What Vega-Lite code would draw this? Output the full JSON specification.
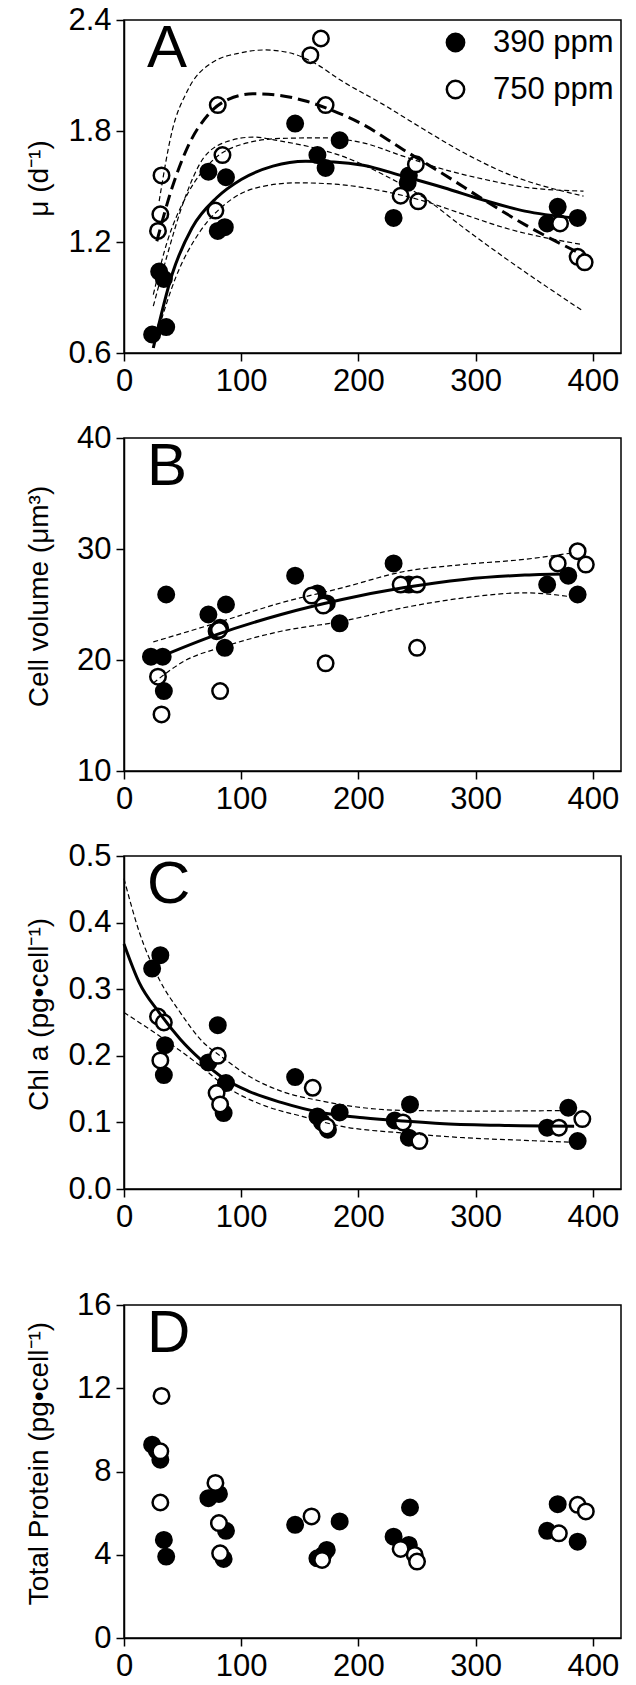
{
  "$schema": "https://vega.github.io/schema/vega-lite/v6.json",
  "background": "white",
  "padding": {"left": 24, "top": 3, "right": 0, "bottom": 0},
  "config": {
    "font": "Liberation Sans",
    "view": {"stroke": "black", "strokeWidth": 1.5},
    "axis": {"domainColor": "black", "domainWidth": 1.5, "tickColor": "black", "tickWidth": 1.5, "tickSize": 8, "labelFontSize": 31, "labelColor": "black", "labelPadding": 5, "grid": false, "titleFontSize": 28, "titleFontWeight": "normal", "titleColor": "black", "labelFlush": false, "labelOverlap": false},
    "title": {"fontSize": 60, "fontWeight": "normal", "anchor": "start", "frame": "group", "baseline": "alphabetic", "dx": 23, "offset": -76, "color": "black"}
  },
  "datasets": {
    "pts": [
      {"p": "A", "x": 24, "y": 0.70, "g": "390 ppm"}, {"p": "A", "x": 30, "y": 1.04, "g": "390 ppm"}, {"p": "A", "x": 34, "y": 1.00, "g": "390 ppm"}, {"p": "A", "x": 36, "y": 0.74, "g": "390 ppm"}, {"p": "A", "x": 72, "y": 1.58, "g": "390 ppm"}, {"p": "A", "x": 87, "y": 1.55, "g": "390 ppm"}, {"p": "A", "x": 80, "y": 1.26, "g": "390 ppm"}, {"p": "A", "x": 86, "y": 1.28, "g": "390 ppm"}, {"p": "A", "x": 146, "y": 1.84, "g": "390 ppm"}, {"p": "A", "x": 165, "y": 1.67, "g": "390 ppm"}, {"p": "A", "x": 172, "y": 1.60, "g": "390 ppm"}, {"p": "A", "x": 184, "y": 1.75, "g": "390 ppm"}, {"p": "A", "x": 230, "y": 1.33, "g": "390 ppm"}, {"p": "A", "x": 243, "y": 1.56, "g": "390 ppm"}, {"p": "A", "x": 242, "y": 1.52, "g": "390 ppm"}, {"p": "A", "x": 361, "y": 1.30, "g": "390 ppm"}, {"p": "A", "x": 370, "y": 1.39, "g": "390 ppm"}, {"p": "A", "x": 387, "y": 1.33, "g": "390 ppm"},
      {"p": "A", "x": 32, "y": 1.56, "g": "750 ppm"}, {"p": "A", "x": 31, "y": 1.35, "g": "750 ppm"}, {"p": "A", "x": 29, "y": 1.26, "g": "750 ppm"}, {"p": "A", "x": 80, "y": 1.94, "g": "750 ppm"}, {"p": "A", "x": 84, "y": 1.67, "g": "750 ppm"}, {"p": "A", "x": 78, "y": 1.37, "g": "750 ppm"}, {"p": "A", "x": 159, "y": 2.21, "g": "750 ppm"}, {"p": "A", "x": 168, "y": 2.30, "g": "750 ppm"}, {"p": "A", "x": 172, "y": 1.94, "g": "750 ppm"}, {"p": "A", "x": 249, "y": 1.62, "g": "750 ppm"}, {"p": "A", "x": 236, "y": 1.45, "g": "750 ppm"}, {"p": "A", "x": 251, "y": 1.42, "g": "750 ppm"}, {"p": "A", "x": 372, "y": 1.30, "g": "750 ppm"}, {"p": "A", "x": 387, "y": 1.12, "g": "750 ppm"}, {"p": "A", "x": 393, "y": 1.09, "g": "750 ppm"},
      {"p": "B", "x": 23, "y": 20.3, "g": "390 ppm"}, {"p": "B", "x": 33, "y": 20.3, "g": "390 ppm"}, {"p": "B", "x": 36, "y": 25.9, "g": "390 ppm"}, {"p": "B", "x": 34, "y": 17.2, "g": "390 ppm"}, {"p": "B", "x": 72, "y": 24.1, "g": "390 ppm"}, {"p": "B", "x": 87, "y": 25.0, "g": "390 ppm"}, {"p": "B", "x": 79, "y": 22.6, "g": "390 ppm"}, {"p": "B", "x": 82, "y": 22.9, "g": "390 ppm"}, {"p": "B", "x": 86, "y": 21.1, "g": "390 ppm"}, {"p": "B", "x": 146, "y": 27.6, "g": "390 ppm"}, {"p": "B", "x": 165, "y": 26.0, "g": "390 ppm"}, {"p": "B", "x": 173, "y": 25.1, "g": "390 ppm"}, {"p": "B", "x": 184, "y": 23.3, "g": "390 ppm"}, {"p": "B", "x": 230, "y": 28.7, "g": "390 ppm"}, {"p": "B", "x": 243, "y": 26.8, "g": "390 ppm"}, {"p": "B", "x": 361, "y": 26.8, "g": "390 ppm"}, {"p": "B", "x": 379, "y": 27.6, "g": "390 ppm"}, {"p": "B", "x": 387, "y": 25.9, "g": "390 ppm"},
      {"p": "B", "x": 29, "y": 18.5, "g": "750 ppm"}, {"p": "B", "x": 32, "y": 15.1, "g": "750 ppm"}, {"p": "B", "x": 82, "y": 17.2, "g": "750 ppm"}, {"p": "B", "x": 81, "y": 22.7, "g": "750 ppm"}, {"p": "B", "x": 160, "y": 25.8, "g": "750 ppm"}, {"p": "B", "x": 170, "y": 24.9, "g": "750 ppm"}, {"p": "B", "x": 172, "y": 19.7, "g": "750 ppm"}, {"p": "B", "x": 236, "y": 26.8, "g": "750 ppm"}, {"p": "B", "x": 250, "y": 26.8, "g": "750 ppm"}, {"p": "B", "x": 250, "y": 21.1, "g": "750 ppm"}, {"p": "B", "x": 370, "y": 28.7, "g": "750 ppm"}, {"p": "B", "x": 387, "y": 29.8, "g": "750 ppm"}, {"p": "B", "x": 394, "y": 28.6, "g": "750 ppm"},
      {"p": "C", "x": 24, "y": 0.331, "g": "390 ppm"}, {"p": "C", "x": 31, "y": 0.351, "g": "390 ppm"}, {"p": "C", "x": 35, "y": 0.216, "g": "390 ppm"}, {"p": "C", "x": 34, "y": 0.171, "g": "390 ppm"}, {"p": "C", "x": 72, "y": 0.190, "g": "390 ppm"}, {"p": "C", "x": 80, "y": 0.246, "g": "390 ppm"}, {"p": "C", "x": 87, "y": 0.159, "g": "390 ppm"}, {"p": "C", "x": 85, "y": 0.114, "g": "390 ppm"}, {"p": "C", "x": 146, "y": 0.168, "g": "390 ppm"}, {"p": "C", "x": 165, "y": 0.109, "g": "390 ppm"}, {"p": "C", "x": 174, "y": 0.089, "g": "390 ppm"}, {"p": "C", "x": 169, "y": 0.100, "g": "390 ppm"}, {"p": "C", "x": 184, "y": 0.115, "g": "390 ppm"}, {"p": "C", "x": 231, "y": 0.103, "g": "390 ppm"}, {"p": "C", "x": 244, "y": 0.127, "g": "390 ppm"}, {"p": "C", "x": 243, "y": 0.077, "g": "390 ppm"}, {"p": "C", "x": 361, "y": 0.092, "g": "390 ppm"}, {"p": "C", "x": 379, "y": 0.122, "g": "390 ppm"}, {"p": "C", "x": 387, "y": 0.072, "g": "390 ppm"},
      {"p": "C", "x": 29, "y": 0.259, "g": "750 ppm"}, {"p": "C", "x": 34, "y": 0.250, "g": "750 ppm"}, {"p": "C", "x": 31, "y": 0.193, "g": "750 ppm"}, {"p": "C", "x": 80, "y": 0.200, "g": "750 ppm"}, {"p": "C", "x": 79, "y": 0.144, "g": "750 ppm"}, {"p": "C", "x": 82, "y": 0.127, "g": "750 ppm"}, {"p": "C", "x": 161, "y": 0.152, "g": "750 ppm"}, {"p": "C", "x": 173, "y": 0.094, "g": "750 ppm"}, {"p": "C", "x": 238, "y": 0.100, "g": "750 ppm"}, {"p": "C", "x": 252, "y": 0.072, "g": "750 ppm"}, {"p": "C", "x": 371, "y": 0.092, "g": "750 ppm"}, {"p": "C", "x": 391, "y": 0.105, "g": "750 ppm"},
      {"p": "D", "x": 24, "y": 9.29, "g": "390 ppm"}, {"p": "D", "x": 28, "y": 9.0, "g": "390 ppm"}, {"p": "D", "x": 31, "y": 8.57, "g": "390 ppm"}, {"p": "D", "x": 34, "y": 4.71, "g": "390 ppm"}, {"p": "D", "x": 36, "y": 3.91, "g": "390 ppm"}, {"p": "D", "x": 72, "y": 6.72, "g": "390 ppm"}, {"p": "D", "x": 81, "y": 6.92, "g": "390 ppm"}, {"p": "D", "x": 87, "y": 5.15, "g": "390 ppm"}, {"p": "D", "x": 85, "y": 3.80, "g": "390 ppm"}, {"p": "D", "x": 146, "y": 5.44, "g": "390 ppm"}, {"p": "D", "x": 165, "y": 3.83, "g": "390 ppm"}, {"p": "D", "x": 173, "y": 4.23, "g": "390 ppm"}, {"p": "D", "x": 170, "y": 3.99, "g": "390 ppm"}, {"p": "D", "x": 184, "y": 5.60, "g": "390 ppm"}, {"p": "D", "x": 230, "y": 4.87, "g": "390 ppm"}, {"p": "D", "x": 244, "y": 6.27, "g": "390 ppm"}, {"p": "D", "x": 243, "y": 4.47, "g": "390 ppm"}, {"p": "D", "x": 361, "y": 5.15, "g": "390 ppm"}, {"p": "D", "x": 370, "y": 6.43, "g": "390 ppm"}, {"p": "D", "x": 387, "y": 4.63, "g": "390 ppm"},
      {"p": "D", "x": 32, "y": 11.63, "g": "750 ppm"}, {"p": "D", "x": 31, "y": 8.97, "g": "750 ppm"}, {"p": "D", "x": 31, "y": 6.51, "g": "750 ppm"}, {"p": "D", "x": 78, "y": 7.45, "g": "750 ppm"}, {"p": "D", "x": 81, "y": 5.52, "g": "750 ppm"}, {"p": "D", "x": 82, "y": 4.07, "g": "750 ppm"}, {"p": "D", "x": 160, "y": 5.84, "g": "750 ppm"}, {"p": "D", "x": 169, "y": 3.75, "g": "750 ppm"}, {"p": "D", "x": 236, "y": 4.28, "g": "750 ppm"}, {"p": "D", "x": 248, "y": 3.99, "g": "750 ppm"}, {"p": "D", "x": 250, "y": 3.67, "g": "750 ppm"}, {"p": "D", "x": 371, "y": 5.03, "g": "750 ppm"}, {"p": "D", "x": 387, "y": 6.40, "g": "750 ppm"}, {"p": "D", "x": 394, "y": 6.08, "g": "750 ppm"}
    ],
    "crv": [
      {"p": "A", "c": "fit390", "k": "solid", "x": 25, "y": 0.627}, {"p": "A", "c": "fit390", "k": "solid", "x": 41, "y": 1.024}, {"p": "A", "c": "fit390", "k": "solid", "x": 58, "y": 1.276}, {"p": "A", "c": "fit390", "k": "solid", "x": 79, "y": 1.439}, {"p": "A", "c": "fit390", "k": "solid", "x": 100, "y": 1.538}, {"p": "A", "c": "fit390", "k": "solid", "x": 127, "y": 1.610}, {"p": "A", "c": "fit390", "k": "solid", "x": 155, "y": 1.637}, {"p": "A", "c": "fit390", "k": "solid", "x": 179, "y": 1.633}, {"p": "A", "c": "fit390", "k": "solid", "x": 204, "y": 1.615}, {"p": "A", "c": "fit390", "k": "solid", "x": 238, "y": 1.556}, {"p": "A", "c": "fit390", "k": "solid", "x": 273, "y": 1.493}, {"p": "A", "c": "fit390", "k": "solid", "x": 308, "y": 1.424}, {"p": "A", "c": "fit390", "k": "solid", "x": 342, "y": 1.367}, {"p": "A", "c": "fit390", "k": "solid", "x": 384, "y": 1.330},
      {"p": "A", "c": "fit750", "k": "thick", "x": 28, "y": 1.204}, {"p": "A", "c": "fit750", "k": "thick", "x": 41, "y": 1.493}, {"p": "A", "c": "fit750", "k": "thick", "x": 54, "y": 1.709}, {"p": "A", "c": "fit750", "k": "thick", "x": 72, "y": 1.890}, {"p": "A", "c": "fit750", "k": "thick", "x": 89, "y": 1.971}, {"p": "A", "c": "fit750", "k": "thick", "x": 110, "y": 2.001}, {"p": "A", "c": "fit750", "k": "thick", "x": 131, "y": 1.994}, {"p": "A", "c": "fit750", "k": "thick", "x": 155, "y": 1.962}, {"p": "A", "c": "fit750", "k": "thick", "x": 179, "y": 1.908}, {"p": "A", "c": "fit750", "k": "thick", "x": 204, "y": 1.835}, {"p": "A", "c": "fit750", "k": "thick", "x": 238, "y": 1.700}, {"p": "A", "c": "fit750", "k": "thick", "x": 273, "y": 1.565}, {"p": "A", "c": "fit750", "k": "thick", "x": 308, "y": 1.424}, {"p": "A", "c": "fit750", "k": "thick", "x": 342, "y": 1.294}, {"p": "A", "c": "fit750", "k": "thick", "x": 391, "y": 1.132},
      {"p": "A", "c": "u750", "k": "ci", "x": 30, "y": 1.421}, {"p": "A", "c": "u750", "k": "ci", "x": 41, "y": 1.799}, {"p": "A", "c": "u750", "k": "ci", "x": 54, "y": 2.016}, {"p": "A", "c": "u750", "k": "ci", "x": 75, "y": 2.169}, {"p": "A", "c": "u750", "k": "ci", "x": 100, "y": 2.223}, {"p": "A", "c": "u750", "k": "ci", "x": 120, "y": 2.238}, {"p": "A", "c": "u750", "k": "ci", "x": 141, "y": 2.223}, {"p": "A", "c": "u750", "k": "ci", "x": 162, "y": 2.169}, {"p": "A", "c": "u750", "k": "ci", "x": 186, "y": 2.070}, {"p": "A", "c": "u750", "k": "ci", "x": 221, "y": 1.944}, {"p": "A", "c": "u750", "k": "ci", "x": 256, "y": 1.808}, {"p": "A", "c": "u750", "k": "ci", "x": 290, "y": 1.682}, {"p": "A", "c": "u750", "k": "ci", "x": 325, "y": 1.574}, {"p": "A", "c": "u750", "k": "ci", "x": 392, "y": 1.448},
      {"p": "A", "c": "l750", "k": "ci", "x": 25, "y": 0.853}, {"p": "A", "c": "l750", "k": "ci", "x": 37, "y": 1.132}, {"p": "A", "c": "l750", "k": "ci", "x": 51, "y": 1.421}, {"p": "A", "c": "l750", "k": "ci", "x": 68, "y": 1.655}, {"p": "A", "c": "l750", "k": "ci", "x": 89, "y": 1.745}, {"p": "A", "c": "l750", "k": "ci", "x": 110, "y": 1.767}, {"p": "A", "c": "l750", "k": "ci", "x": 134, "y": 1.745}, {"p": "A", "c": "l750", "k": "ci", "x": 162, "y": 1.709}, {"p": "A", "c": "l750", "k": "ci", "x": 190, "y": 1.655}, {"p": "A", "c": "l750", "k": "ci", "x": 221, "y": 1.565}, {"p": "A", "c": "l750", "k": "ci", "x": 256, "y": 1.439}, {"p": "A", "c": "l750", "k": "ci", "x": 290, "y": 1.276}, {"p": "A", "c": "l750", "k": "ci", "x": 325, "y": 1.114}, {"p": "A", "c": "l750", "k": "ci", "x": 392, "y": 0.825},
      {"p": "A", "c": "u390", "k": "ci", "x": 25, "y": 0.916}, {"p": "A", "c": "u390", "k": "ci", "x": 37, "y": 1.204}, {"p": "A", "c": "u390", "k": "ci", "x": 54, "y": 1.457}, {"p": "A", "c": "u390", "k": "ci", "x": 75, "y": 1.637}, {"p": "A", "c": "u390", "k": "ci", "x": 100, "y": 1.727}, {"p": "A", "c": "u390", "k": "ci", "x": 134, "y": 1.760}, {"p": "A", "c": "u390", "k": "ci", "x": 169, "y": 1.763}, {"p": "A", "c": "u390", "k": "ci", "x": 204, "y": 1.736}, {"p": "A", "c": "u390", "k": "ci", "x": 238, "y": 1.664}, {"p": "A", "c": "u390", "k": "ci", "x": 273, "y": 1.592}, {"p": "A", "c": "u390", "k": "ci", "x": 308, "y": 1.538}, {"p": "A", "c": "u390", "k": "ci", "x": 342, "y": 1.496}, {"p": "A", "c": "u390", "k": "ci", "x": 392, "y": 1.475},
      {"p": "A", "c": "l390", "k": "ci", "x": 28, "y": 0.699}, {"p": "A", "c": "l390", "k": "ci", "x": 44, "y": 1.006}, {"p": "A", "c": "l390", "k": "ci", "x": 65, "y": 1.258}, {"p": "A", "c": "l390", "k": "ci", "x": 86, "y": 1.403}, {"p": "A", "c": "l390", "k": "ci", "x": 113, "y": 1.493}, {"p": "A", "c": "l390", "k": "ci", "x": 148, "y": 1.520}, {"p": "A", "c": "l390", "k": "ci", "x": 183, "y": 1.511}, {"p": "A", "c": "l390", "k": "ci", "x": 221, "y": 1.475}, {"p": "A", "c": "l390", "k": "ci", "x": 256, "y": 1.421}, {"p": "A", "c": "l390", "k": "ci", "x": 290, "y": 1.349}, {"p": "A", "c": "l390", "k": "ci", "x": 325, "y": 1.276}, {"p": "A", "c": "l390", "k": "ci", "x": 391, "y": 1.186},
      {"p": "B", "c": "fit", "k": "solid", "x": 25, "y": 20.03}, {"p": "B", "c": "fit", "k": "solid", "x": 79, "y": 22.29}, {"p": "B", "c": "fit", "k": "solid", "x": 134, "y": 24.1}, {"p": "B", "c": "fit", "k": "solid", "x": 186, "y": 25.45}, {"p": "B", "c": "fit", "k": "solid", "x": 238, "y": 26.5}, {"p": "B", "c": "fit", "k": "solid", "x": 290, "y": 27.26}, {"p": "B", "c": "fit", "k": "solid", "x": 342, "y": 27.65}, {"p": "B", "c": "fit", "k": "solid", "x": 384, "y": 27.77},
      {"p": "B", "c": "u", "k": "ci", "x": 25, "y": 21.63}, {"p": "B", "c": "u", "k": "ci", "x": 79, "y": 23.34}, {"p": "B", "c": "u", "k": "ci", "x": 134, "y": 25.15}, {"p": "B", "c": "u", "k": "ci", "x": 186, "y": 26.5}, {"p": "B", "c": "u", "k": "ci", "x": 238, "y": 27.95}, {"p": "B", "c": "u", "k": "ci", "x": 290, "y": 28.61}, {"p": "B", "c": "u", "k": "ci", "x": 342, "y": 29.07}, {"p": "B", "c": "u", "k": "ci", "x": 384, "y": 29.67},
      {"p": "B", "c": "l", "k": "ci", "x": 25, "y": 17.92}, {"p": "B", "c": "l", "k": "ci", "x": 51, "y": 19.88}, {"p": "B", "c": "l", "k": "ci", "x": 86, "y": 21.23}, {"p": "B", "c": "l", "k": "ci", "x": 134, "y": 22.59}, {"p": "B", "c": "l", "k": "ci", "x": 186, "y": 23.49}, {"p": "B", "c": "l", "k": "ci", "x": 238, "y": 24.7}, {"p": "B", "c": "l", "k": "ci", "x": 290, "y": 25.6}, {"p": "B", "c": "l", "k": "ci", "x": 342, "y": 26.05}, {"p": "B", "c": "l", "k": "ci", "x": 384, "y": 25.66},
      {"p": "C", "c": "fit", "k": "solid", "x": 0, "y": 0.368}, {"p": "C", "c": "fit", "k": "solid", "x": 13, "y": 0.310}, {"p": "C", "c": "fit", "k": "solid", "x": 30, "y": 0.265}, {"p": "C", "c": "fit", "k": "solid", "x": 48, "y": 0.225}, {"p": "C", "c": "fit", "k": "solid", "x": 65, "y": 0.195}, {"p": "C", "c": "fit", "k": "solid", "x": 86, "y": 0.165}, {"p": "C", "c": "fit", "k": "solid", "x": 106, "y": 0.147}, {"p": "C", "c": "fit", "k": "solid", "x": 134, "y": 0.130}, {"p": "C", "c": "fit", "k": "solid", "x": 169, "y": 0.1145}, {"p": "C", "c": "fit", "k": "solid", "x": 204, "y": 0.107}, {"p": "C", "c": "fit", "k": "solid", "x": 238, "y": 0.102}, {"p": "C", "c": "fit", "k": "solid", "x": 273, "y": 0.098}, {"p": "C", "c": "fit", "k": "solid", "x": 325, "y": 0.0954}, {"p": "C", "c": "fit", "k": "solid", "x": 384, "y": 0.0944},
      {"p": "C", "c": "u", "k": "ci", "x": 0, "y": 0.466}, {"p": "C", "c": "u", "k": "ci", "x": 13, "y": 0.386}, {"p": "C", "c": "u", "k": "ci", "x": 30, "y": 0.315}, {"p": "C", "c": "u", "k": "ci", "x": 48, "y": 0.265}, {"p": "C", "c": "u", "k": "ci", "x": 65, "y": 0.225}, {"p": "C", "c": "u", "k": "ci", "x": 86, "y": 0.195}, {"p": "C", "c": "u", "k": "ci", "x": 106, "y": 0.170}, {"p": "C", "c": "u", "k": "ci", "x": 134, "y": 0.147}, {"p": "C", "c": "u", "k": "ci", "x": 169, "y": 0.132}, {"p": "C", "c": "u", "k": "ci", "x": 204, "y": 0.122}, {"p": "C", "c": "u", "k": "ci", "x": 238, "y": 0.118}, {"p": "C", "c": "u", "k": "ci", "x": 308, "y": 0.117}, {"p": "C", "c": "u", "k": "ci", "x": 384, "y": 0.118},
      {"p": "C", "c": "l", "k": "ci", "x": 0, "y": 0.265}, {"p": "C", "c": "l", "k": "ci", "x": 30, "y": 0.230}, {"p": "C", "c": "l", "k": "ci", "x": 65, "y": 0.185}, {"p": "C", "c": "l", "k": "ci", "x": 86, "y": 0.155}, {"p": "C", "c": "l", "k": "ci", "x": 117, "y": 0.127}, {"p": "C", "c": "l", "k": "ci", "x": 152, "y": 0.109}, {"p": "C", "c": "l", "k": "ci", "x": 186, "y": 0.094}, {"p": "C", "c": "l", "k": "ci", "x": 238, "y": 0.084}, {"p": "C", "c": "l", "k": "ci", "x": 290, "y": 0.077}, {"p": "C", "c": "l", "k": "ci", "x": 342, "y": 0.073}, {"p": "C", "c": "l", "k": "ci", "x": 384, "y": 0.070}
    ]
  },
  "vconcat": [
    {
      "spacing": 24,
      "vconcat": [
        {
          "width": 497, "height": 333,
          "title": {"text": "A"},
          "layer": [
            {
              "data": {"name": "pts"},
              "transform": [{"filter": "datum.p == 'A'"}],
              "mark": {"type": "point", "shape": "circle", "size": 240, "stroke": "black", "strokeWidth": 2.5, "opacity": 1, "fillOpacity": 1},
              "encoding": {
                "x": {"field": "x", "type": "quantitative", "scale": {"domain": [0, 424], "nice": false, "zero": false}, "axis": {"values": [0, 100, 200, 300, 400], "title": null}},
                "y": {"field": "y", "type": "quantitative", "scale": {"domain": [0.6, 2.4], "nice": false, "zero": false}, "axis": {"values": [0.6, 1.2, 1.8, 2.4], "format": ".1f", "title": "μ (d⁻¹)", "titleX": -77, "titleY": 158, "titleAngle": -90, "titleBaseline": "alphabetic", "titleAlign": "center"}},
                "fill": {"field": "g", "type": "nominal", "scale": {"domain": ["390 ppm", "750 ppm"], "range": ["black", "white"]}, "legend": {"title": null, "orient": "none", "legendX": 316, "legendY": 7, "symbolType": "circle", "symbolSize": 300, "symbolStrokeColor": "black", "symbolStrokeWidth": 2.5, "labelFontSize": 31, "labelColor": "black", "labelOffset": 22, "rowPadding": 15, "padding": 0}}
              }
            },
            {
              "data": {"name": "crv"},
              "transform": [{"filter": "datum.p == 'A' && datum.k == 'ci'"}],
              "mark": {"type": "line", "color": "black", "strokeWidth": 1.2, "strokeDash": [5, 3], "interpolate": "monotone"},
              "encoding": {"x": {"field": "x", "type": "quantitative"}, "y": {"field": "y", "type": "quantitative"}, "detail": {"field": "c"}}
            },
            {
              "data": {"name": "crv"},
              "transform": [{"filter": "datum.p == 'A' && datum.k == 'solid'"}],
              "mark": {"type": "line", "color": "black", "strokeWidth": 3, "interpolate": "monotone"},
              "encoding": {"x": {"field": "x", "type": "quantitative"}, "y": {"field": "y", "type": "quantitative"}}
            },
            {
              "data": {"name": "crv"},
              "transform": [{"filter": "datum.p == 'A' && datum.k == 'thick'"}],
              "mark": {"type": "line", "color": "black", "strokeWidth": 3, "strokeDash": [12, 6], "interpolate": "monotone"},
              "encoding": {"x": {"field": "x", "type": "quantitative"}, "y": {"field": "y", "type": "quantitative"}}
            }
          ]
        },
        {
          "width": 497, "height": 333,
          "title": {"text": "B"},
          "layer": [
            {
              "data": {"name": "pts"},
              "transform": [{"filter": "datum.p == 'B'"}],
              "mark": {"type": "point", "shape": "circle", "size": 240, "stroke": "black", "strokeWidth": 2.5, "opacity": 1, "fillOpacity": 1},
              "encoding": {
                "x": {"field": "x", "type": "quantitative", "scale": {"domain": [0, 424], "nice": false, "zero": false}, "axis": {"values": [0, 100, 200, 300, 400], "title": null}},
                "y": {"field": "y", "type": "quantitative", "scale": {"domain": [10, 40], "nice": false, "zero": false}, "axis": {"values": [10, 20, 30, 40], "title": "Cell volume (μm³)", "titleX": -77, "titleY": 158, "titleAngle": -90, "titleBaseline": "alphabetic", "titleAlign": "center"}},
                "fill": {"field": "g", "type": "nominal", "scale": {"domain": ["390 ppm", "750 ppm"], "range": ["black", "white"]}, "legend": null}
              }
            },
            {
              "data": {"name": "crv"},
              "transform": [{"filter": "datum.p == 'B' && datum.k == 'ci'"}],
              "mark": {"type": "line", "color": "black", "strokeWidth": 1.2, "strokeDash": [5, 3], "interpolate": "monotone"},
              "encoding": {"x": {"field": "x", "type": "quantitative"}, "y": {"field": "y", "type": "quantitative"}, "detail": {"field": "c"}}
            },
            {
              "data": {"name": "crv"},
              "transform": [{"filter": "datum.p == 'B' && datum.k == 'solid'"}],
              "mark": {"type": "line", "color": "black", "strokeWidth": 3, "interpolate": "monotone"},
              "encoding": {"x": {"field": "x", "type": "quantitative"}, "y": {"field": "y", "type": "quantitative"}}
            }
          ]
        },
        {
          "width": 497, "height": 333,
          "title": {"text": "C"},
          "layer": [
            {
              "data": {"name": "pts"},
              "transform": [{"filter": "datum.p == 'C'"}],
              "mark": {"type": "point", "shape": "circle", "size": 240, "stroke": "black", "strokeWidth": 2.5, "opacity": 1, "fillOpacity": 1},
              "encoding": {
                "x": {"field": "x", "type": "quantitative", "scale": {"domain": [0, 424], "nice": false, "zero": false}, "axis": {"values": [0, 100, 200, 300, 400], "title": null}},
                "y": {"field": "y", "type": "quantitative", "scale": {"domain": [0, 0.5], "nice": false, "zero": false}, "axis": {"values": [0, 0.1, 0.2, 0.3, 0.4, 0.5], "format": ".1f", "title": "Chl a (pg•cell⁻¹)", "titleX": -77, "titleY": 158, "titleAngle": -90, "titleBaseline": "alphabetic", "titleAlign": "center"}},
                "fill": {"field": "g", "type": "nominal", "scale": {"domain": ["390 ppm", "750 ppm"], "range": ["black", "white"]}, "legend": null}
              }
            },
            {
              "data": {"name": "crv"},
              "transform": [{"filter": "datum.p == 'C' && datum.k == 'ci'"}],
              "mark": {"type": "line", "color": "black", "strokeWidth": 1.2, "strokeDash": [5, 3], "interpolate": "monotone"},
              "encoding": {"x": {"field": "x", "type": "quantitative"}, "y": {"field": "y", "type": "quantitative"}, "detail": {"field": "c"}}
            },
            {
              "data": {"name": "crv"},
              "transform": [{"filter": "datum.p == 'C' && datum.k == 'solid'"}],
              "mark": {"type": "line", "color": "black", "strokeWidth": 3, "interpolate": "monotone"},
              "encoding": {"x": {"field": "x", "type": "quantitative"}, "y": {"field": "y", "type": "quantitative"}}
            }
          ]
        }
      ]
    },
    {
      "width": 497, "height": 333,
      "title": {"text": "D"},
      "layer": [
        {
          "data": {"name": "pts"},
          "transform": [{"filter": "datum.p == 'D'"}],
          "mark": {"type": "point", "shape": "circle", "size": 240, "stroke": "black", "strokeWidth": 2.5, "opacity": 1, "fillOpacity": 1},
          "encoding": {
            "x": {"field": "x", "type": "quantitative", "scale": {"domain": [0, 424], "nice": false, "zero": false}, "axis": {"values": [0, 100, 200, 300, 400], "title": null}},
            "y": {"field": "y", "type": "quantitative", "scale": {"domain": [0, 16], "nice": false, "zero": false}, "axis": {"values": [0, 4, 8, 12, 16], "title": "Total Protein (pg•cell⁻¹)", "titleX": -77, "titleY": 158, "titleAngle": -90, "titleBaseline": "alphabetic", "titleAlign": "center"}},
            "fill": {"field": "g", "type": "nominal", "scale": {"domain": ["390 ppm", "750 ppm"], "range": ["black", "white"]}, "legend": null}
          }
        }
      ]
    }
  ],
  "spacing": 55,
  "resolve": {"scale": {"fill": "independent", "x": "independent", "y": "independent"}, "legend": {"fill": "independent"}}
}
